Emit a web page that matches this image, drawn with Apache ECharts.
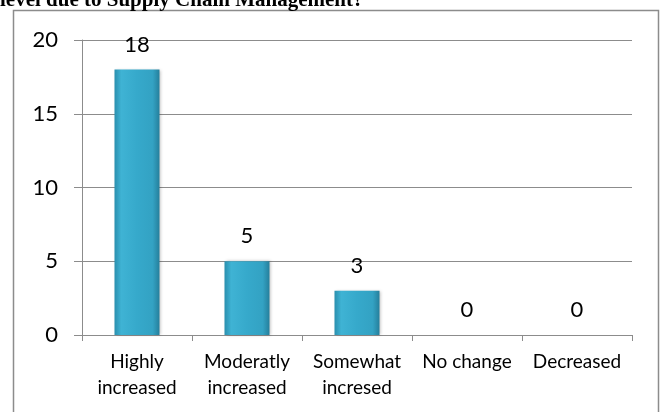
<!DOCTYPE html>
<html>
<head>
<meta charset="utf-8">
<style>
  html, body { margin: 0; padding: 0; background: #fff; }
  #chart { width: 660px; height: 412px; }
</style>
<script src="https://cdn.jsdelivr.net/npm/echarts@6/dist/echarts.min.js"></script>
</head>
<body>
<div id="chart"></div>
<script>
// Survey responses: change in level due to Supply Chain Management
const categories = ['Highly\nincreased', 'Moderatly\nincreased', 'Somewhat\nincresed', 'No change', 'Decreased'];
const counts = [18, 5, 3, 0, 0];
const yTicks = { min: 0, max: 20, interval: 5 };

const chart = echarts.init(document.getElementById('chart'));

const barFill = new echarts.graphic.LinearGradient(0, 0, 1, 0, [
  { offset: 0, color: '#2a8fae' },
  { offset: 0.15, color: '#3fb3d4' },
  { offset: 0.5, color: '#36a9cb' },
  { offset: 0.85, color: '#33a2c3' },
  { offset: 1, color: '#257f9c' }
]);

const labelFont = 'Lato, "Open Sans", sans-serif';

chart.setOption({
  animation: false,
  graphic: [
    {
      type: 'rect',
      shape: { x: 13.5, y: 10.5, width: 645, height: 420 },
      style: { fill: 'none', stroke: '#8c8c8c', lineWidth: 1.5 },
      z: -1
    },
    {
      type: 'text',
      x: 0,
      y: 0,
      style: {
        x: 0,
        y: 11,
        text: 'level due to Supply Chain Management?',
        font: 'bold 21px "Liberation Serif", "Times New Roman", serif',
        fill: '#000',
        verticalAlign: 'bottom'
      }
    }
  ],
  grid: { left: 82, right: 28, top: 40, bottom: 77 },
  xAxis: {
    type: 'category',
    data: categories,
    axisLine: { lineStyle: { color: '#8c8c8c', width: 1 } },
    axisTick: { show: true, length: 6, alignWithLabel: false, lineStyle: { color: '#8c8c8c' } },
    axisLabel: {
      color: '#000',
      fontFamily: labelFont,
      fontSize: 19,
      lineHeight: 26,
      margin: 14,
      interval: 0
    }
  },
  yAxis: {
    type: 'value',
    min: yTicks.min,
    max: yTicks.max,
    interval: yTicks.interval,
    axisLine: { show: true, lineStyle: { color: '#8c8c8c', width: 1 } },
    axisTick: { show: true, length: 8, lineStyle: { color: '#8c8c8c' } },
    splitLine: { lineStyle: { color: '#8c8c8c', width: 1 } },
    axisLabel: {
      color: '#000',
      fontFamily: labelFont,
      fontSize: 22,
      margin: 24
    }
  },
  series: [{
    type: 'bar',
    data: counts,
    barWidth: 45,
    itemStyle: {
      color: barFill,
      shadowColor: 'rgba(0,0,0,0.25)',
      shadowBlur: 3,
      shadowOffsetX: 1,
      shadowOffsetY: 0
    },
    label: {
      show: true,
      position: 'top',
      distance: 14,
      color: '#000',
      fontFamily: labelFont,
      fontSize: 22
    }
  }]
});
</script>
</body>
</html>
